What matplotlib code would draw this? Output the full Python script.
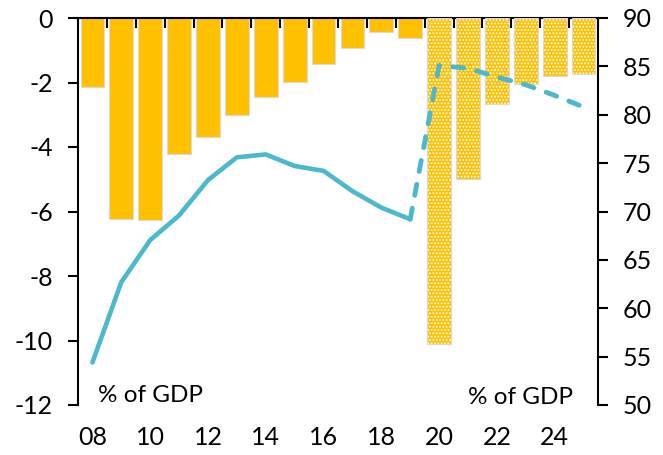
import matplotlib.pyplot as plt
import matplotlib as mpl

mpl.rcParams['font.family'] = ['Lato', 'DejaVu Sans']
mpl.rcParams['axes.unicode_minus'] = False
mpl.rcParams['hatch.color'] = 'white'
mpl.rcParams['hatch.linewidth'] = 0.9

# данные
years = list(range(2008, 2026))
deficit = [-2.15, -6.23, -6.26, -4.22, -3.68, -3.0, -2.45, -1.98, -1.43, -0.93, -0.43, -0.62,
           -10.1, -5.0, -2.67, -2.05, -1.8, -1.74]
debt = [54.4, 62.7, 67.05, 69.6, 73.25, 75.6, 75.9, 74.7, 74.2, 72.1, 70.4, 69.2,
        85.1, 84.8, 83.9, 83.1, 82.0, 80.8]
n_actual = 12  # 2008-2019 факт, дальше прогноз
xtick_years = list(range(2008, 2025, 2))
xtick_labels = ['%02d' % (y % 100) for y in xtick_years]

yellow = '#FFC000'
teal = '#4BB9CB'
edge = '#d9d9d9'

fig, ax = plt.subplots(figsize=(6.63, 4.55), dpi=100)
fig.subplots_adjust(left=78 / 663, right=598 / 663, top=1 - 18 / 455, bottom=1 - 405 / 455)
ax2 = ax.twinx()

# столбцы - факт
ax.bar(years[:n_actual], deficit[:n_actual], width=0.82, color=yellow, edgecolor=edge, linewidth=0.8, zorder=2)
# столбцы - прогноз (с точками)
ax.bar(years[n_actual:], deficit[n_actual:], width=0.82, color=yellow, hatch='.....', linewidth=0, zorder=2)
ax.bar(years[n_actual:], deficit[n_actual:], width=0.82, fill=False, edgecolor=edge, linewidth=0.8, zorder=3)

# линия долга
ax2.plot(years[:n_actual], debt[:n_actual], color=teal, linewidth=3.3, solid_capstyle='round')
ax2.plot(years[n_actual - 1:], debt[n_actual - 1:], color=teal, linewidth=3.5,
         linestyle=(0, (2.3, 2.7)), dash_capstyle='round')

ax.set_xlim(2007.5, 2025.5)
ax.set_ylim(-12, 0)
ax.set_yticks(range(-12, 1, 2))
ax2.set_ylim(50, 90)
ax2.set_yticks(range(50, 91, 5))

ax.set_xticks(xtick_years)
ax.set_xticklabels(xtick_labels)
ax.set_xticks([y + 0.5 for y in years], minor=True)

ax.tick_params(axis='x', which='major', length=0, labelsize=18, pad=15)
ax.tick_params(axis='x', which='minor', bottom=False, top=True, direction='in', length=7, width=1.5)
ax.tick_params(axis='y', length=7, width=1.5, labelsize=18, pad=11)
ax2.tick_params(axis='y', length=7, width=1.5, labelsize=18, pad=11)

for s in ['bottom', 'right']:
    ax.spines[s].set_visible(False)
for s in ['bottom', 'top', 'left']:
    ax2.spines[s].set_visible(False)
ax.spines['left'].set_linewidth(1.5)
ax.spines['top'].set_linewidth(1.5)
ax2.spines['right'].set_linewidth(1.5)

ax.text(0.038, 0.025, '% of GDP', transform=ax.transAxes, fontsize=17.5, va='center', ha='left')
ax.text(0.952, 0.02, '% of GDP', transform=ax.transAxes, fontsize=17.5, va='center', ha='right')

plt.savefig('out.png')
plt.close()
